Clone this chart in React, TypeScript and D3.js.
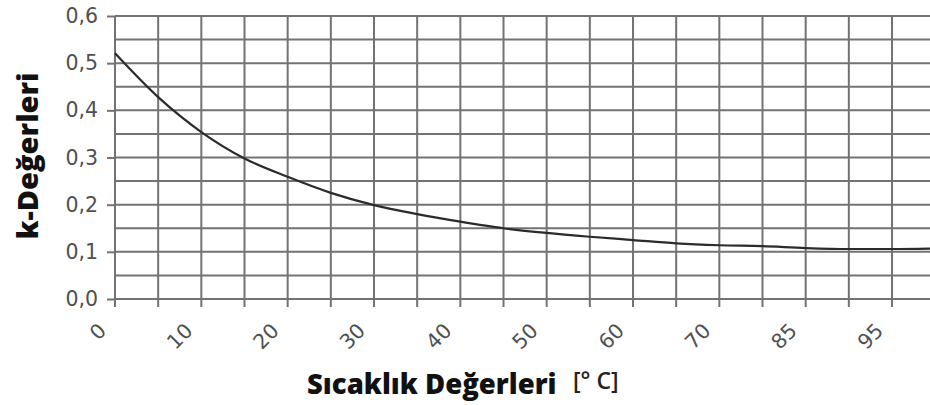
import React, { useEffect, useRef } from "react";
import * as d3 from "d3";

// temperature categories shown on the x axis (one label every second grid line)
const xLabels = ["0", "10", "20", "30", "40", "50", "60", "70", "85", "95"];
// k values read at each vertical grid line (every half category)
const kValues = [
  0.521, 0.428, 0.354, 0.298, 0.259, 0.225, 0.199, 0.18, 0.164, 0.15, 0.14,
  0.132, 0.125, 0.118, 0.114, 0.112, 0.108, 0.106, 0.106,
];
// value where the curve leaves the right edge
const kEdge = 0.107;
const yTicks = [0, 0.1, 0.2, 0.3, 0.4, 0.5, 0.6];
const yMinor = [0.05, 0.15, 0.25, 0.35, 0.45, 0.55];

const W = 930;
const H = 405;

export default function App() {
  const svgRef = useRef<SVGSVGElement>(null);

  useEffect(() => {
    if (!svgRef.current) return;
    const svg = d3.select(svgRef.current);
    svg.selectAll("*").remove();

    const left = 115;
    const top = 16;
    const bottom = 299;
    const xMax = 9.44; // plot is cut at the right edge of the image

    const x = d3.scaleLinear().domain([0, xMax]).range([left, W]);
    const y = d3.scaleLinear().domain([0, 0.6]).range([bottom, top]);

    const grid = svg.append("g").attr("stroke", "#737373").attr("stroke-width", 2);

    // horizontal lines
    grid
      .selectAll("line.h")
      .data([...yTicks, ...yMinor])
      .enter()
      .append("line")
      .attr("x1", left)
      .attr("x2", W)
      .attr("y1", (d) => y(d))
      .attr("y2", (d) => y(d));

    // vertical lines, every half category
    const vPos = d3.range(0, 19).map((i) => i / 2);
    grid
      .selectAll("line.v")
      .data(vPos)
      .enter()
      .append("line")
      .attr("x1", (d) => x(d))
      .attr("x2", (d) => x(d))
      .attr("y1", top)
      .attr("y2", bottom + 8);

    // y axis
    const yAxis = svg
      .append("g")
      .attr("transform", `translate(${left},0)`)
      .call(
        d3
          .axisLeft(y)
          .tickValues(yTicks)
          .tickSize(8)
          .tickPadding(9)
          .tickFormat((d) => d3.format(".1f")(d as number).replace(".", ","))
      );
    yAxis.select(".domain").remove();
    yAxis.selectAll("line").attr("stroke", "#737373").attr("stroke-width", 2);
    yAxis
      .selectAll("text")
      .attr("fill", "#505050")
      .style("font-family", "'DejaVu Sans', sans-serif")
      .style("font-size", "20.5px");

    // x axis labels
    const xAxis = svg
      .append("g")
      .attr("transform", `translate(0,${bottom})`)
      .call(
        d3
          .axisBottom(x)
          .tickValues(d3.range(xLabels.length))
          .tickSize(0)
          .tickFormat((d) => xLabels[d as number])
      );
    xAxis.select(".domain").remove();
    xAxis
      .selectAll("text")
      .attr("x", 0)
      .attr("y", 0)
      .attr("dy", "0.35em")
      .attr("text-anchor", "end")
      .attr("transform", "translate(-13,28) rotate(-45)")
      .attr("fill", "#505050")
      .style("font-family", "'DejaVu Sans', sans-serif")
      .style("font-size", "20.5px");

    // curve
    const pts: [number, number][] = kValues.map((v, i) => [i / 2, v]);
    pts.push([xMax, kEdge]);
    const line = d3
      .line<[number, number]>()
      .x((d) => x(d[0]))
      .y((d) => y(d[1]))
      .curve(d3.curveMonotoneX);
    svg
      .append("path")
      .attr("d", line(pts))
      .attr("fill", "none")
      .attr("stroke", "#2b2b2b")
      .attr("stroke-width", 2.2);

    // axis titles
    svg
      .append("text")
      .attr("transform", "translate(38,156) rotate(-90)")
      .attr("text-anchor", "middle")
      .attr("fill", "#111")
      .style("font-family", "'Open Sans', sans-serif")
      .style("font-weight", "800")
      .style("font-size", "29px")
      .text("k-Değerleri");

    svg
      .append("text")
      .attr("x", 307)
      .attr("y", 394)
      .attr("fill", "#111")
      .style("font-family", "'Open Sans', sans-serif")
      .style("font-weight", "800")
      .style("font-size", "27.5px")
      .text("Sıcaklık Değerleri");

    svg
      .append("text")
      .attr("x", 573)
      .attr("y", 389)
      .attr("fill", "#222")
      .style("font-family", "'Open Sans', sans-serif")
      .style("font-weight", "600")
      .style("font-size", "23px")
      .text("[° C]");
  }, []);

  return (
    <svg
      ref={svgRef}
      width={W}
      height={H}
      style={{ position: "absolute", left: 0, top: 0, background: "#fff" }}
    />
  );
}
